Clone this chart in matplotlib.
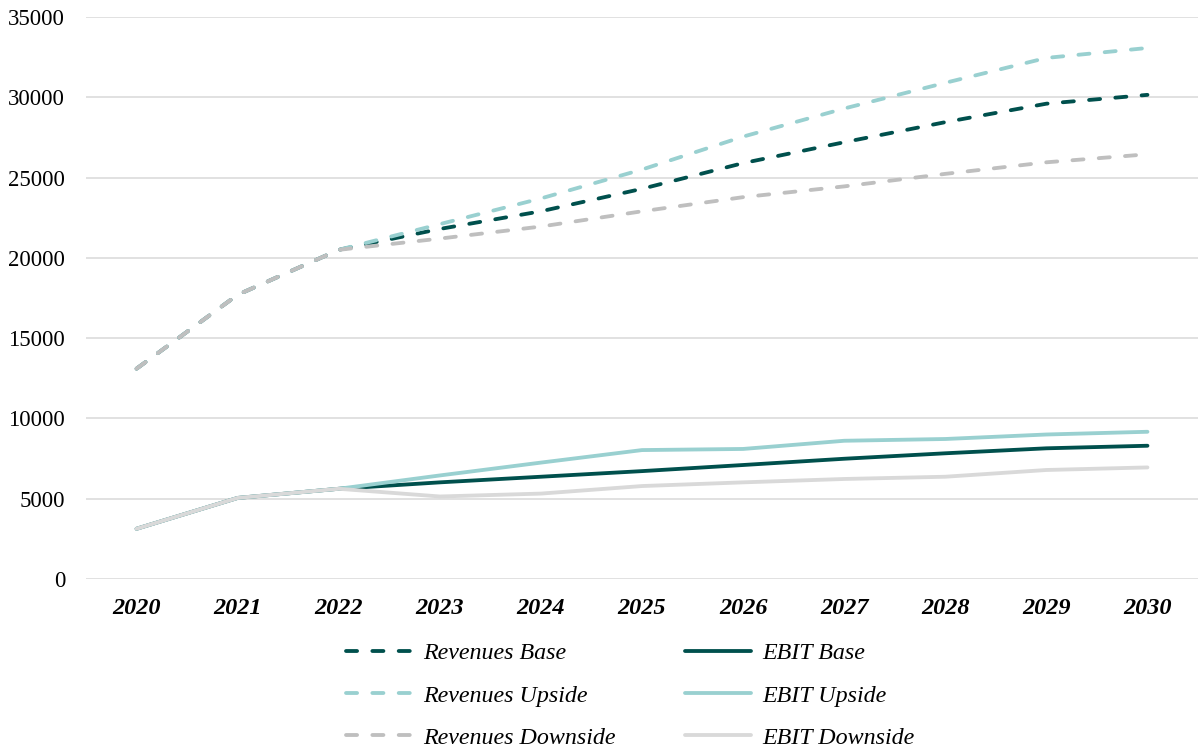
import matplotlib.pyplot as plt

# years on the x axis
years = ['2020', '2021', '2022', '2023', '2024', '2025', '2026', '2027', '2028', '2029', '2030']

# revenues by scenario
rev_base = [13100, 17700, 20500, 21800, 22900, 24300, 25900, 27200, 28450, 29600, 30150]
rev_up = [13100, 17700, 20500, 22100, 23700, 25500, 27550, 29300, 30900, 32450, 33070]
rev_down = [13100, 17700, 20500, 21200, 21950, 22900, 23780, 24450, 25230, 25950, 26450]

# EBIT by scenario
ebit_base = [3130, 5050, 5620, 6020, 6370, 6720, 7100, 7490, 7830, 8140, 8300]
ebit_up = [3130, 5050, 5620, 6450, 7250, 8030, 8100, 8610, 8720, 9000, 9170]
ebit_down = [3130, 5050, 5620, 5140, 5320, 5790, 6020, 6230, 6370, 6790, 6950]

dark = '#00504D'
light = '#99D0D0'
grey = '#BFBFBF'
pale = '#D9D9D9'

plt.rcParams['font.family'] = ['Liberation Serif', 'DejaVu Serif']

fig = plt.figure(figsize=(11.98, 7.48), dpi=100)
ax = fig.add_axes([0.0718, 0.2259, 0.9282, 0.7514])

x = list(range(len(years)))
dash = dict(linestyle=(0, (2.9, 4.0)), dash_capstyle='round', linewidth=2.75)
solid = dict(linestyle='-', linewidth=2.75, solid_capstyle='round')

# base, then upside, then downside on top (downside shows over 2020-2022)
l_rb, = ax.plot(x, rev_base, color=dark, label='Revenues Base', **dash)
l_ru, = ax.plot(x, rev_up, color=light, label='Revenues Upside', **dash)
l_rd, = ax.plot(x, rev_down, color=grey, label='Revenues Downside', **dash)
l_eb, = ax.plot(x, ebit_base, color=dark, label='EBIT Base', **solid)
l_eu, = ax.plot(x, ebit_up, color=light, label='EBIT Upside', **solid)
l_ed, = ax.plot(x, ebit_down, color=pale, label='EBIT Downside', **solid)

ax.set_xlim(-0.5, len(years) - 0.5)
ax.set_ylim(0, 35000)
ax.set_yticks(range(0, 35001, 5000))
ax.set_xticks(x)
ax.set_xticklabels(years, fontsize=17.5, fontweight='bold', fontstyle='italic')
ax.tick_params(axis='y', labelsize=16.5, length=0, pad=15)
ax.tick_params(axis='x', length=0, pad=14)

ax.grid(axis='y', color='#D9D9D9', linewidth=1.1)
ax.set_axisbelow(True)
for s in ax.spines.values():
    s.set_visible(False)

handles = [l_rb, l_ru, l_rd, l_eb, l_eu, l_ed]
fig.legend(handles=handles, labels=[h.get_label() for h in handles],
           ncol=2, loc='upper left', bbox_to_anchor=(346 / 1198, 0.141),
           frameon=False, prop={'size': 17.3, 'style': 'italic'},
           handlelength=2.75, handletextpad=0.45, columnspacing=2.9,
           labelspacing=0.85, borderpad=0, borderaxespad=0)

fig.savefig('out.png', dpi=100)
